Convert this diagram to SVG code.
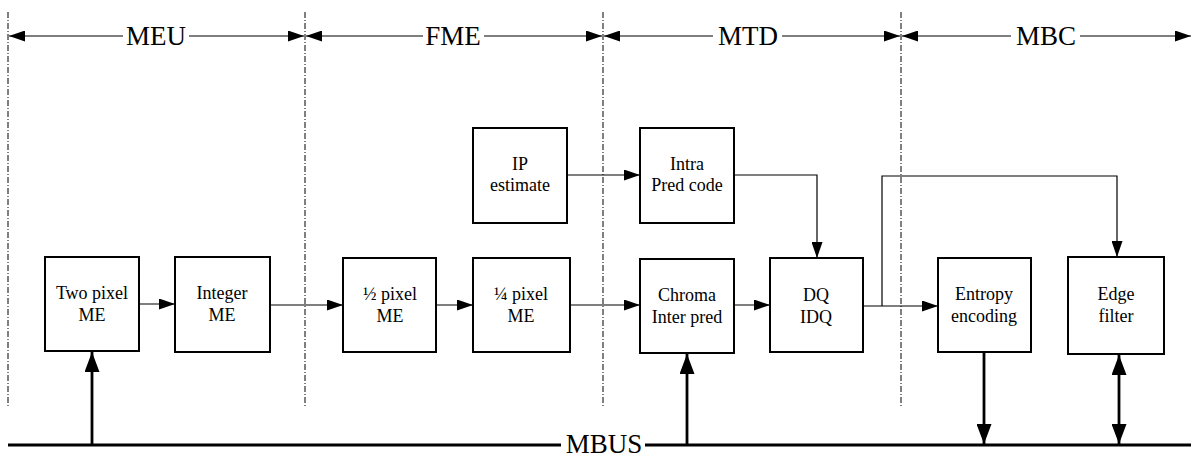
<svg xmlns="http://www.w3.org/2000/svg" width="1193" height="457" viewBox="0 0 1193 457">
<style>
.bx{fill:#fff;stroke:#000;stroke-width:2}
.t{font-size:18px;text-anchor:middle;fill:#000}
.h{font-size:27px;text-anchor:middle;fill:#000}
.thin{stroke:#000;stroke-width:1.2;fill:none}
.thick{stroke:#000;stroke-width:2.8;fill:none}
.dd{stroke:#000;stroke-width:1;stroke-dasharray:6 2 1 2;fill:none}
</style>
<defs>
<marker id="a" markerUnits="userSpaceOnUse" markerWidth="16" markerHeight="11" refX="16" refY="5.5" orient="auto-start-reverse"><path d="M0,0 L16,5.5 L0,11 z" fill="#000"/></marker>
<marker id="b" markerUnits="userSpaceOnUse" markerWidth="20" markerHeight="15" refX="20" refY="7.5" orient="auto-start-reverse"><path d="M0,0 L20,7.5 L0,15 z" fill="#000"/></marker>
</defs>
<g font-family="Liberation Serif, Times New Roman, serif">
<g id="dividers">
<line class="dd" x1="8" y1="12" x2="8" y2="408"/>
<line class="dd" x1="305" y1="12" x2="305" y2="408"/>
<line class="dd" x1="603" y1="12" x2="603" y2="408"/>
<line class="dd" x1="901" y1="12" x2="901" y2="408"/>
</g>
<g id="headers">
<line class="thin" x1="123" y1="36" x2="9" y2="36" marker-end="url(#a)"/>
<line class="thin" x1="189" y1="36" x2="304" y2="36" marker-end="url(#a)"/>
<text class="h" x="156" y="45">MEU</text>
<line class="thin" x1="423" y1="36" x2="306" y2="36" marker-end="url(#a)"/>
<line class="thin" x1="484" y1="36" x2="602" y2="36" marker-end="url(#a)"/>
<text class="h" x="453" y="45">FME</text>
<line class="thin" x1="713" y1="36" x2="604" y2="36" marker-end="url(#a)"/>
<line class="thin" x1="782" y1="36" x2="900" y2="36" marker-end="url(#a)"/>
<text class="h" x="748" y="45">MTD</text>
<line class="thin" x1="1011" y1="36" x2="902" y2="36" marker-end="url(#a)"/>
<line class="thin" x1="1080" y1="36" x2="1191" y2="36" marker-end="url(#a)"/>
<text class="h" x="1046" y="45">MBC</text>
</g>
<g id="bus">
<line class="thick" x1="8" y1="445" x2="561" y2="445"/>
<line class="thick" x1="645" y1="445" x2="1191" y2="445"/>
<text class="h" x="604" y="453">MBUS</text>
</g>
<g id="connectors">
<line class="thin" x1="139" y1="304" x2="175" y2="304" marker-end="url(#a)"/>
<line class="thin" x1="270" y1="305" x2="343" y2="305" marker-end="url(#a)"/>
<line class="thin" x1="436" y1="305" x2="473" y2="305" marker-end="url(#a)"/>
<line class="thin" x1="570" y1="305" x2="640" y2="305" marker-end="url(#a)"/>
<line class="thin" x1="734" y1="305" x2="770" y2="305" marker-end="url(#a)"/>
<line class="thin" x1="863" y1="306" x2="938" y2="306" marker-end="url(#a)"/>
<polyline class="thin" points="882,306 882,176 1117,176 1117,257" marker-end="url(#a)"/>
<line class="thin" x1="567" y1="175" x2="640" y2="175" marker-end="url(#a)"/>
<polyline class="thin" points="734,175 817,175 817,258" marker-end="url(#a)"/>
<line class="thick" x1="92" y1="445" x2="92" y2="352" marker-end="url(#b)"/>
<line class="thick" x1="687" y1="445" x2="687" y2="354" marker-end="url(#b)"/>
<line class="thick" x1="984" y1="353" x2="984" y2="444" marker-end="url(#b)"/>
<line class="thick" x1="1119" y1="355" x2="1119" y2="444" marker-start="url(#b)" marker-end="url(#b)"/>
</g>
<g id="n-twopixel"><rect class="bx" x="45" y="257" width="94" height="94"/><text class="t" x="92" y="299">Two pixel</text><text class="t" x="92" y="321">ME</text></g>
<g id="n-integer"><rect class="bx" x="175" y="257" width="95" height="95"/><text class="t" x="222" y="299">Integer</text><text class="t" x="222" y="321">ME</text></g>
<g id="n-half"><rect class="bx" x="343" y="258" width="93" height="94"/><text class="t" x="390" y="300">½ pixel</text><text class="t" x="390" y="322">ME</text></g>
<g id="n-quarter"><rect class="bx" x="473" y="258" width="97" height="94"/><text class="t" x="521" y="300">¼ pixel</text><text class="t" x="521" y="322">ME</text></g>
<g id="n-chroma"><rect class="bx" x="640" y="259" width="94" height="94"/><text class="t" x="687" y="301">Chroma</text><text class="t" x="687" y="323">Inter pred</text></g>
<g id="n-dq"><rect class="bx" x="770" y="258" width="93" height="94"/><text class="t" x="816" y="301">DQ</text><text class="t" x="816" y="323">IDQ</text></g>
<g id="n-entropy"><rect class="bx" x="938" y="258" width="93" height="94"/><text class="t" x="984" y="300">Entropy</text><text class="t" x="984" y="322">encoding</text></g>
<g id="n-edge"><rect class="bx" x="1068" y="257" width="96" height="97"/><text class="t" x="1116" y="300">Edge</text><text class="t" x="1116" y="322">filter</text></g>
<g id="n-ip"><rect class="bx" x="473" y="128" width="94" height="95"/><text class="t" x="520" y="170">IP</text><text class="t" x="520" y="191">estimate</text></g>
<g id="n-intra"><rect class="bx" x="640" y="128" width="94" height="95"/><text class="t" x="687" y="170">Intra</text><text class="t" x="687" y="191">Pred code</text></g>
</g>
</svg>
